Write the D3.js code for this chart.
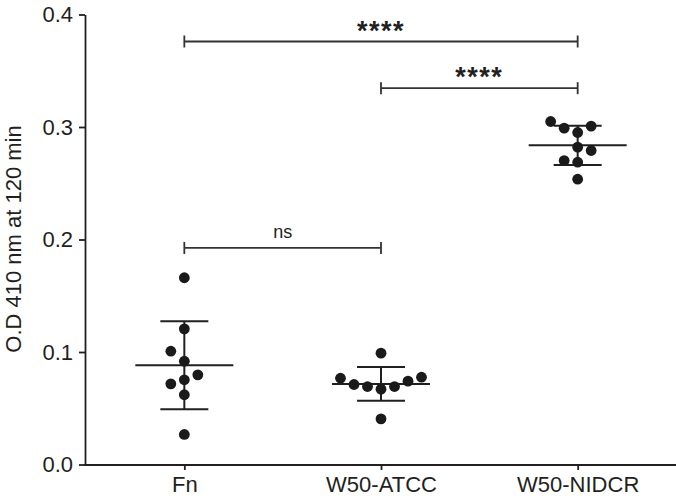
<!DOCTYPE html>
<html>
<head>
<meta charset="utf-8">
<script src="https://cdn.jsdelivr.net/npm/d3@7"></script>
<style>
    body { margin: 0; background: #fff; }
    svg { display: block; font-family: "Liberation Sans", Arial, sans-serif; }
</style>
</head>
<body>
<script>
// groups on the x axis
var groups = ["Fn", "W50-ATCC", "W50-NIDCR"];

// individual replicate values (O.D 410 nm)
var fnValues = [0.166, 0.1206, 0.1007, 0.0918, 0.0797, 0.0717, 0.0753, 0.062, 0.0267];
var atccValues = [0.099, 0.0767, 0.0711, 0.0693, 0.067, 0.0693, 0.0741, 0.0776, 0.0406];
var nidcrValues = [0.3049, 0.299, 0.3008, 0.2951, 0.2821, 0.2791, 0.2702, 0.2687, 0.2536];

// scatter column of each dot (prism style spreading)
var fnCols = [0, 0, -1, 0, 1, -1, 0, 0, 0];
var atccCols = [0, -3, -2, -1, 0, 1, 2, 3, 0];
var nidcrCols = [-2, -1, 1, 0, 0, 1, -1, 0, 0];

var yTicks = [0, 0.1, 0.2, 0.3, 0.4];

// significance brackets
var compFrom = ["Fn", "W50-ATCC", "Fn"];
var compTo = ["W50-NIDCR", "W50-NIDCR", "W50-ATCC"];
var compLabel = ["****", "****", "ns"];
var compLevel = [0.376, 0.3345, 0.1925];

var width = 676, height = 500;
var ink = "#231f20";

var svg = d3.select("body").append("svg")
    .attr("width", width)
    .attr("height", height);

var x = d3.scalePoint()
    .domain(groups)
    .range([86, 676])
    .padding(0.5);

var y = d3.scaleLinear()
    .domain([0, 0.4])
    .range([464.5, 14.5]);

var r = 5.4, colStep = 13.5;

var series = [
    {name: "Fn", values: fnValues, cols: fnCols},
    {name: "W50-ATCC", values: atccValues, cols: atccCols},
    {name: "W50-NIDCR", values: nidcrValues, cols: nidcrCols}
];

// y axis
var yAxis = svg.append("g")
    .attr("transform", "translate(85,0)")
    .call(d3.axisLeft(y).tickValues(yTicks).tickFormat(d3.format(".1f"))
        .tickSize(6).tickSizeOuter(0).tickPadding(6));
yAxis.select(".domain").attr("stroke", ink).attr("stroke-width", 1.8);
yAxis.selectAll(".tick line").attr("stroke", ink).attr("stroke-width", 1.8);
yAxis.selectAll(".tick text")
    .attr("fill", ink)
    .style("font-size", "22px")
    .style("font-family", "'Liberation Sans', Arial, sans-serif");

// x axis
var xAxis = svg.append("g")
    .attr("transform", "translate(0,465)")
    .call(d3.axisBottom(x).tickSize(5).tickSizeOuter(0).tickPadding(6));
xAxis.select(".domain").attr("stroke", ink).attr("stroke-width", 1.8)
    .attr("d", "M84,0H676");
xAxis.selectAll(".tick line").attr("stroke", ink).attr("stroke-width", 1.8);
xAxis.selectAll(".tick text")
    .attr("fill", ink)
    .style("font-size", "22px")
    .style("font-family", "'Liberation Sans', Arial, sans-serif");

// y title
svg.append("text")
    .attr("transform", "translate(21,239) rotate(-90)")
    .attr("text-anchor", "middle")
    .attr("fill", ink)
    .style("font-size", "22px")
    .text("O.D 410 nm at 120 min");

// mean and SD bars
series.forEach(function(s) {
    var cx = x(s.name);
    var m = d3.mean(s.values);
    var sd = d3.deviation(s.values);
    var g = svg.append("g")
        .attr("stroke", ink)
        .attr("stroke-width", 2);
    g.append("line")
        .attr("x1", cx).attr("x2", cx)
        .attr("y1", y(m + sd)).attr("y2", y(m - sd));
    g.append("line")
        .attr("x1", cx - 49).attr("x2", cx + 49)
        .attr("y1", y(m)).attr("y2", y(m));
    [m + sd, m - sd].forEach(function(v) {
        g.append("line")
            .attr("x1", cx - 24).attr("x2", cx + 24)
            .attr("y1", y(v)).attr("y2", y(v));
    });
});

// dots
series.forEach(function(s) {
    svg.append("g").selectAll("circle")
        .data(s.values)
        .enter().append("circle")
        .attr("cx", function(d, i) { return x(s.name) + s.cols[i] * colStep; })
        .attr("cy", function(d) { return y(d); })
        .attr("r", r)
        .attr("fill", "#1a1a1a");
});

// significance brackets
compLabel.forEach(function(lab, i) {
    var x1 = x(compFrom[i]), x2 = x(compTo[i]), yy = y(compLevel[i]);
    var g = svg.append("g")
        .attr("stroke", "#333")
        .attr("stroke-width", 1.8);
    g.append("line").attr("x1", x1).attr("x2", x2).attr("y1", yy).attr("y2", yy);
    g.append("line").attr("x1", x1).attr("x2", x1).attr("y1", yy - 6).attr("y2", yy + 6);
    g.append("line").attr("x1", x2).attr("x2", x2).attr("y1", yy - 6).attr("y2", yy + 6);
    var t = svg.append("text")
        .attr("x", (x1 + x2) / 2)
        .attr("text-anchor", "middle")
        .attr("fill", ink)
        .text(lab);
    if (lab === "ns") {
        t.attr("y", yy - 9.5).style("font-size", "18px");
    } else {
        t.attr("y", yy - 2).style("font-size", "27px")
            .style("font-weight", "bold")
            .style("letter-spacing", "1.5px");
    }
});
</script>
</body>
</html>
